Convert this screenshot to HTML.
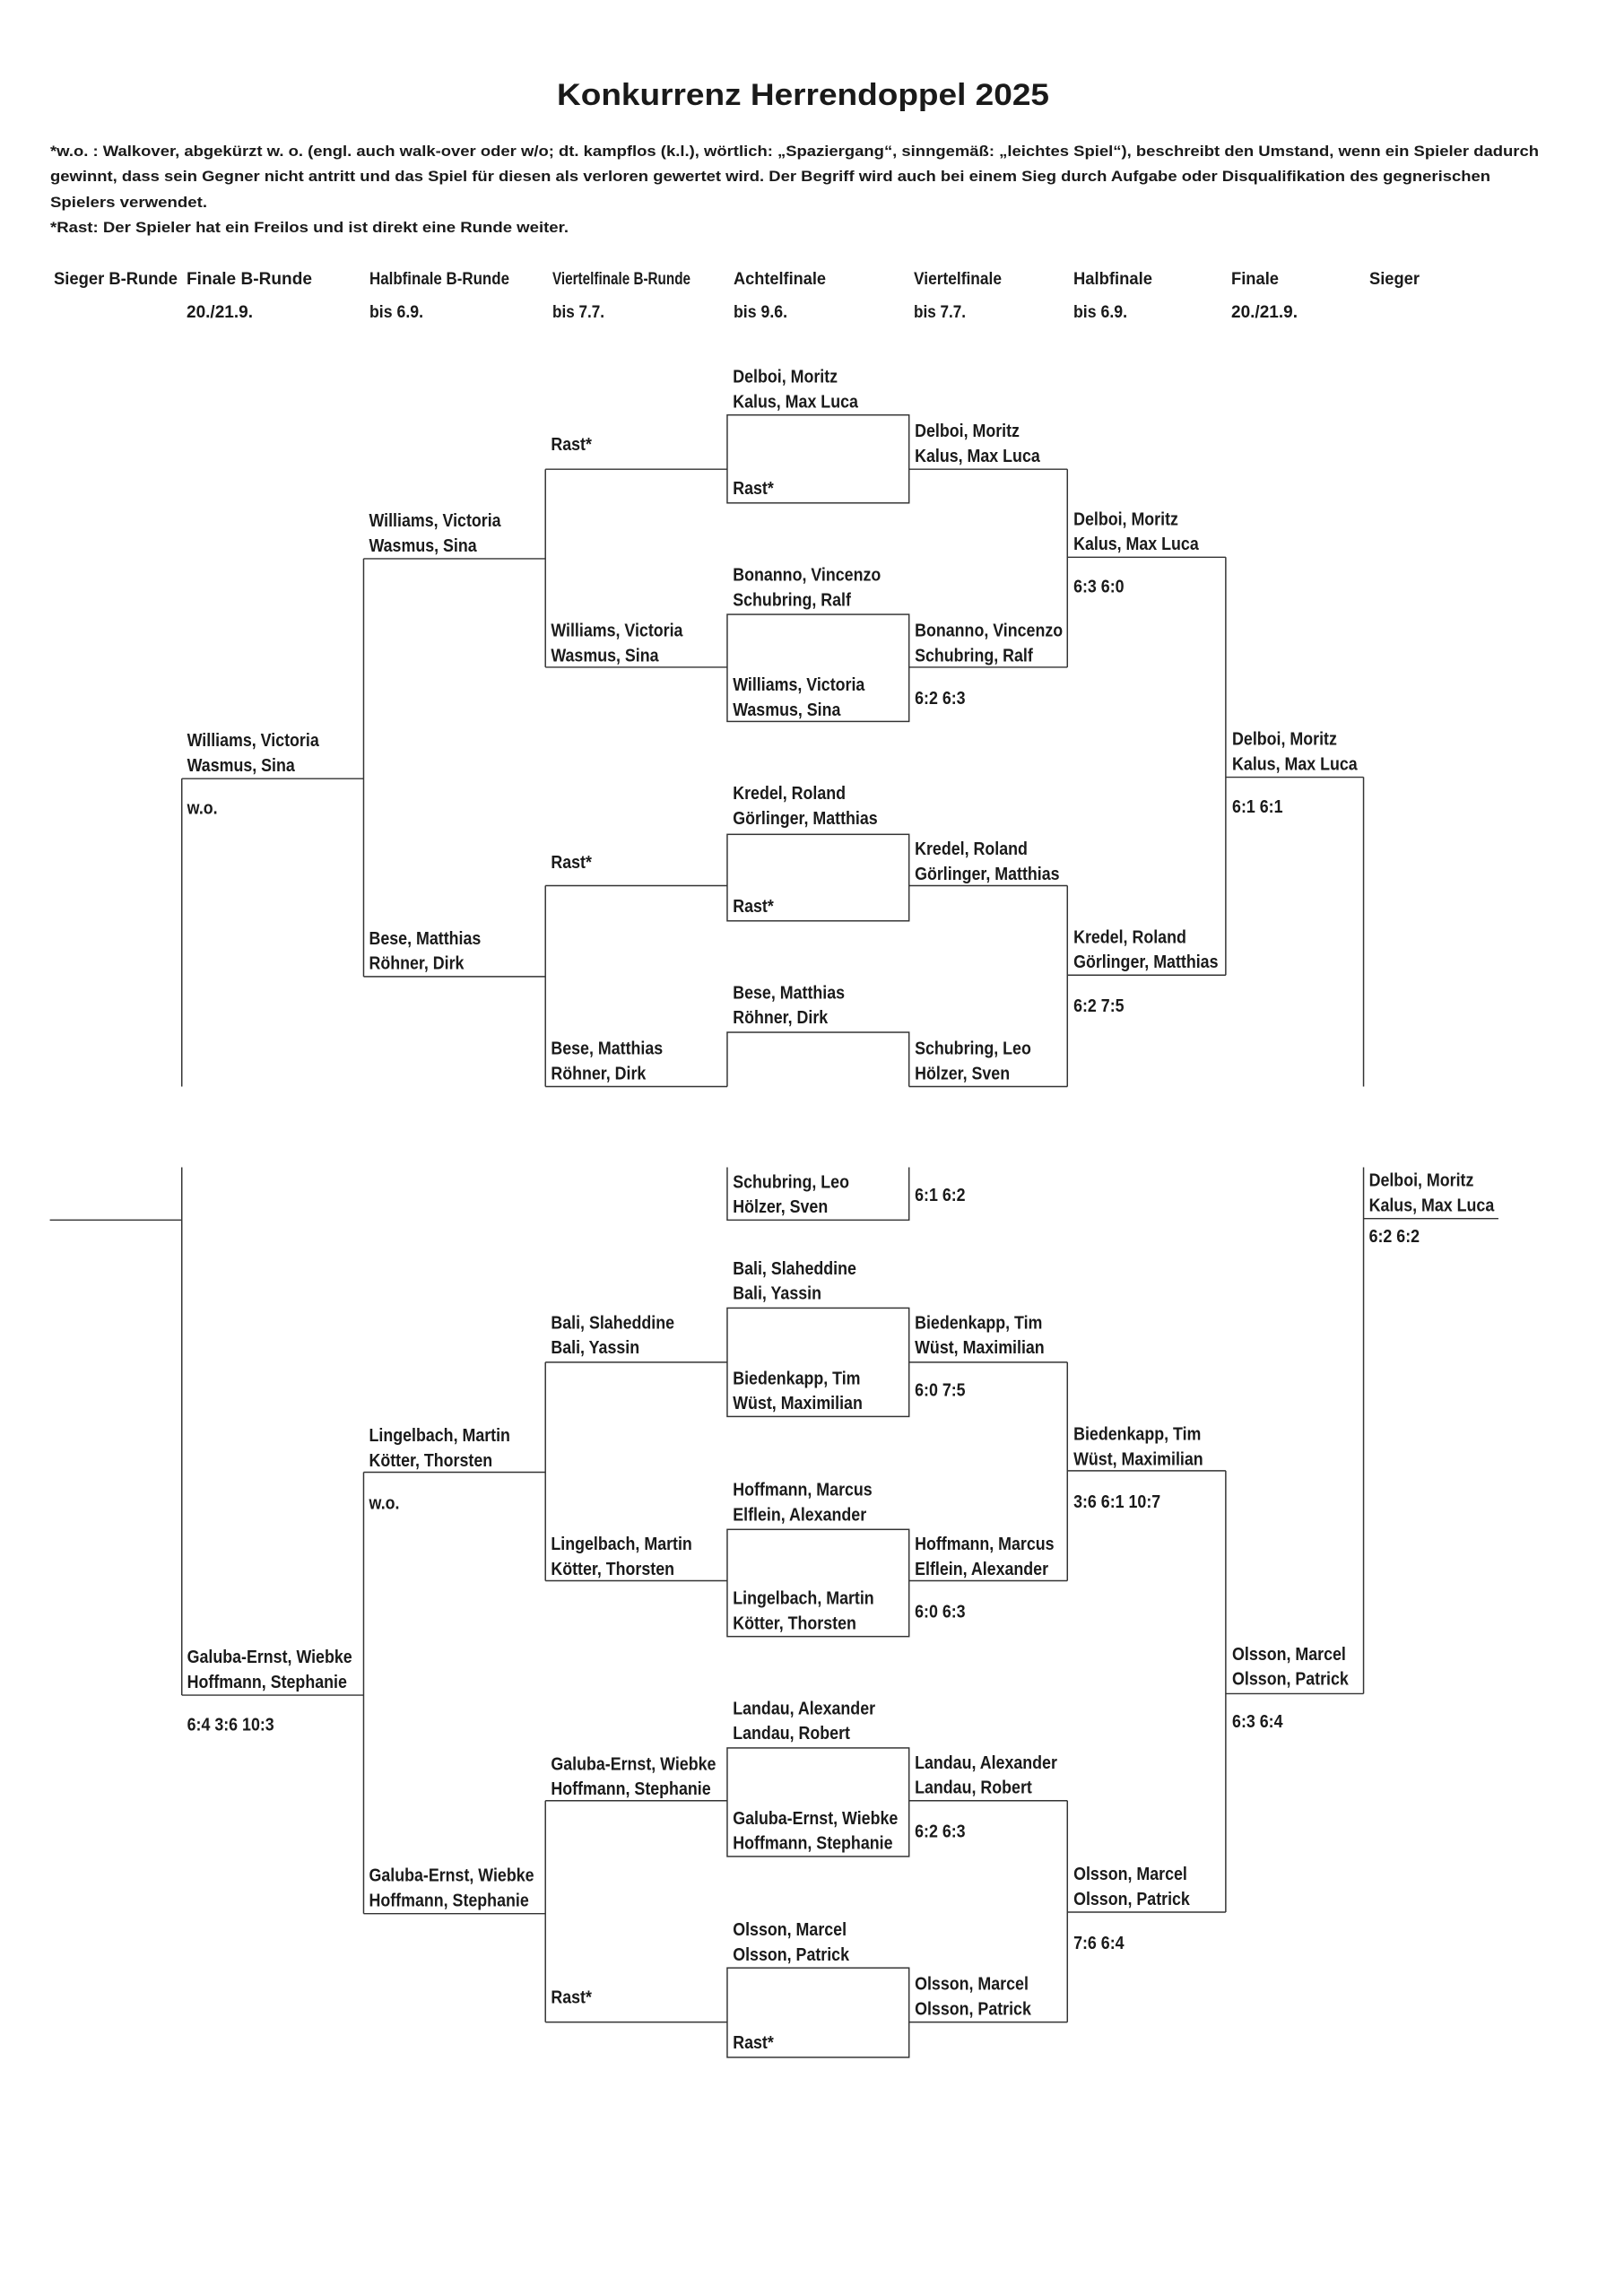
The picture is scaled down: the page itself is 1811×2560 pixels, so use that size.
<!DOCTYPE html>
<html><head><meta charset="utf-8"><style>
html,body{margin:0;padding:0;background:#fff;}
svg{display:block;}
text{font-family:"Liberation Sans Narrow","Liberation Sans",sans-serif;font-weight:bold;fill:#1a1a1a;}
</style></head><body>
<svg width="1811" height="2560" xmlns="http://www.w3.org/2000/svg">
<text x="621" y="117" font-size="34" textLength="549" lengthAdjust="spacingAndGlyphs">Konkurrenz Herrendoppel 2025</text>
<g font-size="17">
<text x="56" y="174" textLength="1660" lengthAdjust="spacingAndGlyphs">*w.o. : Walkover, abgekürzt w. o. (engl. auch walk-over oder w/o; dt. kampflos (k.l.), wörtlich: „Spaziergang“, sinngemäß: „leichtes Spiel“), beschreibt den Umstand, wenn ein Spieler dadurch</text>
<text x="56" y="202" textLength="1606" lengthAdjust="spacingAndGlyphs">gewinnt, dass sein Gegner nicht antritt und das Spiel für diesen als verloren gewertet wird. Der Begriff wird auch bei einem Sieg durch Aufgabe oder Disqualifikation des gegnerischen</text>
<text x="56" y="231" textLength="175" lengthAdjust="spacingAndGlyphs">Spielers verwendet.</text>
<text x="56" y="259" textLength="578" lengthAdjust="spacingAndGlyphs">*Rast: Der Spieler hat ein Freilos und ist direkt eine Runde weiter.</text>
</g>
<g font-size="19">
<text x="60" y="317" textLength="138" lengthAdjust="spacingAndGlyphs">Sieger B-Runde</text>
<text x="208" y="317" textLength="140" lengthAdjust="spacingAndGlyphs">Finale B-Runde</text>
<text x="412" y="317" textLength="156" lengthAdjust="spacingAndGlyphs">Halbfinale B-Runde</text>
<text x="616" y="317" textLength="154" lengthAdjust="spacingAndGlyphs">Viertelfinale B-Runde</text>
<text x="818" y="317" textLength="103" lengthAdjust="spacingAndGlyphs">Achtelfinale</text>
<text x="1019" y="317" textLength="98" lengthAdjust="spacingAndGlyphs">Viertelfinale</text>
<text x="1197" y="317" textLength="88" lengthAdjust="spacingAndGlyphs">Halbfinale</text>
<text x="1373" y="317" textLength="53" lengthAdjust="spacingAndGlyphs">Finale</text>
<text x="1527" y="317" textLength="56" lengthAdjust="spacingAndGlyphs">Sieger</text>
<text x="208" y="354" textLength="74" lengthAdjust="spacingAndGlyphs">20./21.9.</text>
<text x="412" y="354" textLength="60" lengthAdjust="spacingAndGlyphs">bis 6.9.</text>
<text x="616" y="354" textLength="58" lengthAdjust="spacingAndGlyphs">bis 7.7.</text>
<text x="818" y="354" textLength="60" lengthAdjust="spacingAndGlyphs">bis 9.6.</text>
<text x="1019" y="354" textLength="58" lengthAdjust="spacingAndGlyphs">bis 7.7.</text>
<text x="1197" y="354" textLength="60" lengthAdjust="spacingAndGlyphs">bis 6.9.</text>
<text x="1373" y="354" textLength="74" lengthAdjust="spacingAndGlyphs">20./21.9.</text>
</g>
<g transform="scale(1.635)">
<g stroke="#333" stroke-width="0.9" fill="none">
<rect x="496" y="283" width="124" height="60"/>
<path d="M620 320H728M372 320H496"/>
<rect x="496" y="419" width="124" height="73"/>
<path d="M620 455H728M372 455H496"/>
<path d="M728 320V455M728 380H836M372 320V455M248 381H372"/>
<rect x="496" y="569" width="124" height="59"/>
<path d="M620 604H728M372 604H496"/>
<path d="M496 741V704H620V741M496 796V832H620V796"/>
<path d="M620 741H728M372 741H496"/>
<path d="M728 604V741M728 665H836M372 604V741M248 666H372"/>
<path d="M836 380V665M836 530H930M248 381V666M124 531H248"/>
<path d="M930 530V741M930 796V1155M930 831H1022M124 531V741M124 796V1156M34 832H124"/>
<rect x="496" y="892" width="124" height="74"/>
<path d="M620 929H728M372 929H496"/>
<rect x="496" y="1043" width="124" height="73"/>
<path d="M620 1078H728M372 1078H496"/>
<path d="M728 929V1078M728 1003H836M372 929V1078M248 1004H372"/>
<rect x="496" y="1192" width="124" height="74"/>
<path d="M620 1228H728M372 1228H496"/>
<rect x="496" y="1342" width="124" height="61"/>
<path d="M620 1379H728M372 1379H496"/>
<path d="M728 1228V1379M728 1304H836M372 1228V1379M248 1305H372"/>
<path d="M836 1003V1304M836 1155H930M248 1004V1305M124 1156H248"/>
</g>
<g font-size="12.4" transform="scale(0.88 1)">
<text x="568" y="261">Delboi, Moritz</text><text x="568" y="278">Kalus, Max Luca</text>
<text x="568" y="337">Rast*</text>
<text x="709" y="298">Delboi, Moritz</text><text x="709" y="315">Kalus, Max Luca</text>
<text x="427" y="307">Rast*</text>
<text x="568" y="396">Bonanno, Vincenzo</text><text x="568" y="413">Schubring, Ralf</text>
<text x="568" y="471">Williams, Victoria</text><text x="568" y="488">Wasmus, Sina</text>
<text x="709" y="434">Bonanno, Vincenzo</text><text x="709" y="451">Schubring, Ralf</text>
<text x="709" y="480">6:2 6:3</text>
<text x="427" y="434">Williams, Victoria</text><text x="427" y="451">Wasmus, Sina</text>
<text x="832" y="358">Delboi, Moritz</text><text x="832" y="375">Kalus, Max Luca</text>
<text x="832" y="404">6:3 6:0</text>
<text x="286" y="359">Williams, Victoria</text><text x="286" y="376">Wasmus, Sina</text>
<text x="568" y="545">Kredel, Roland</text><text x="568" y="562">Görlinger, Matthias</text>
<text x="568" y="622">Rast*</text>
<text x="709" y="583">Kredel, Roland</text><text x="709" y="600">Görlinger, Matthias</text>
<text x="427" y="592">Rast*</text>
<text x="568" y="681">Bese, Matthias</text><text x="568" y="698">Röhner, Dirk</text>
<text x="709" y="719">Schubring, Leo</text><text x="709" y="736">Hölzer, Sven</text>
<text x="427" y="719">Bese, Matthias</text><text x="427" y="736">Röhner, Dirk</text>
<text x="568" y="810">Schubring, Leo</text><text x="568" y="827">Hölzer, Sven</text>
<text x="709" y="819">6:1 6:2</text>
<text x="832" y="643">Kredel, Roland</text><text x="832" y="660">Görlinger, Matthias</text>
<text x="832" y="690">6:2 7:5</text>
<text x="286" y="644">Bese, Matthias</text><text x="286" y="661">Röhner, Dirk</text>
<text x="955" y="508">Delboi, Moritz</text><text x="955" y="525">Kalus, Max Luca</text>
<text x="955" y="554">6:1 6:1</text>
<text x="145" y="509">Williams, Victoria</text><text x="145" y="526">Wasmus, Sina</text>
<text x="145" y="555">w.o.</text>
<text x="1061" y="809">Delboi, Moritz</text><text x="1061" y="826">Kalus, Max Luca</text>
<text x="1061" y="847">6:2 6:2</text>
<text x="568" y="869">Bali, Slaheddine</text><text x="568" y="886">Bali, Yassin</text>
<text x="568" y="944">Biedenkapp, Tim</text><text x="568" y="961">Wüst, Maximilian</text>
<text x="709" y="906">Biedenkapp, Tim</text><text x="709" y="923">Wüst, Maximilian</text>
<text x="709" y="952">6:0 7:5</text>
<text x="427" y="906">Bali, Slaheddine</text><text x="427" y="923">Bali, Yassin</text>
<text x="568" y="1020">Hoffmann, Marcus</text><text x="568" y="1037">Elflein, Alexander</text>
<text x="568" y="1094">Lingelbach, Martin</text><text x="568" y="1111">Kötter, Thorsten</text>
<text x="709" y="1057">Hoffmann, Marcus</text><text x="709" y="1074">Elflein, Alexander</text>
<text x="709" y="1103">6:0 6:3</text>
<text x="427" y="1057">Lingelbach, Martin</text><text x="427" y="1074">Kötter, Thorsten</text>
<text x="832" y="982">Biedenkapp, Tim</text><text x="832" y="999">Wüst, Maximilian</text>
<text x="832" y="1028">3:6 6:1 10:7</text>
<text x="286" y="983">Lingelbach, Martin</text><text x="286" y="1000">Kötter, Thorsten</text>
<text x="286" y="1029">w.o.</text>
<text x="568" y="1169">Landau, Alexander</text><text x="568" y="1186">Landau, Robert</text>
<text x="568" y="1244">Galuba-Ernst, Wiebke</text><text x="568" y="1261">Hoffmann, Stephanie</text>
<text x="709" y="1206">Landau, Alexander</text><text x="709" y="1223">Landau, Robert</text>
<text x="709" y="1253">6:2 6:3</text>
<text x="427" y="1207">Galuba-Ernst, Wiebke</text><text x="427" y="1224">Hoffmann, Stephanie</text>
<text x="568" y="1320">Olsson, Marcel</text><text x="568" y="1337">Olsson, Patrick</text>
<text x="568" y="1397">Rast*</text>
<text x="709" y="1357">Olsson, Marcel</text><text x="709" y="1374">Olsson, Patrick</text>
<text x="427" y="1366">Rast*</text>
<text x="832" y="1282">Olsson, Marcel</text><text x="832" y="1299">Olsson, Patrick</text>
<text x="832" y="1329">7:6 6:4</text>
<text x="286" y="1283">Galuba-Ernst, Wiebke</text><text x="286" y="1300">Hoffmann, Stephanie</text>
<text x="955" y="1132">Olsson, Marcel</text><text x="955" y="1149">Olsson, Patrick</text>
<text x="955" y="1178">6:3 6:4</text>
<text x="145" y="1134">Galuba-Ernst, Wiebke</text><text x="145" y="1151">Hoffmann, Stephanie</text>
<text x="145" y="1180">6:4 3:6 10:3</text>
</g>
</g>
</svg>
</body></html>
